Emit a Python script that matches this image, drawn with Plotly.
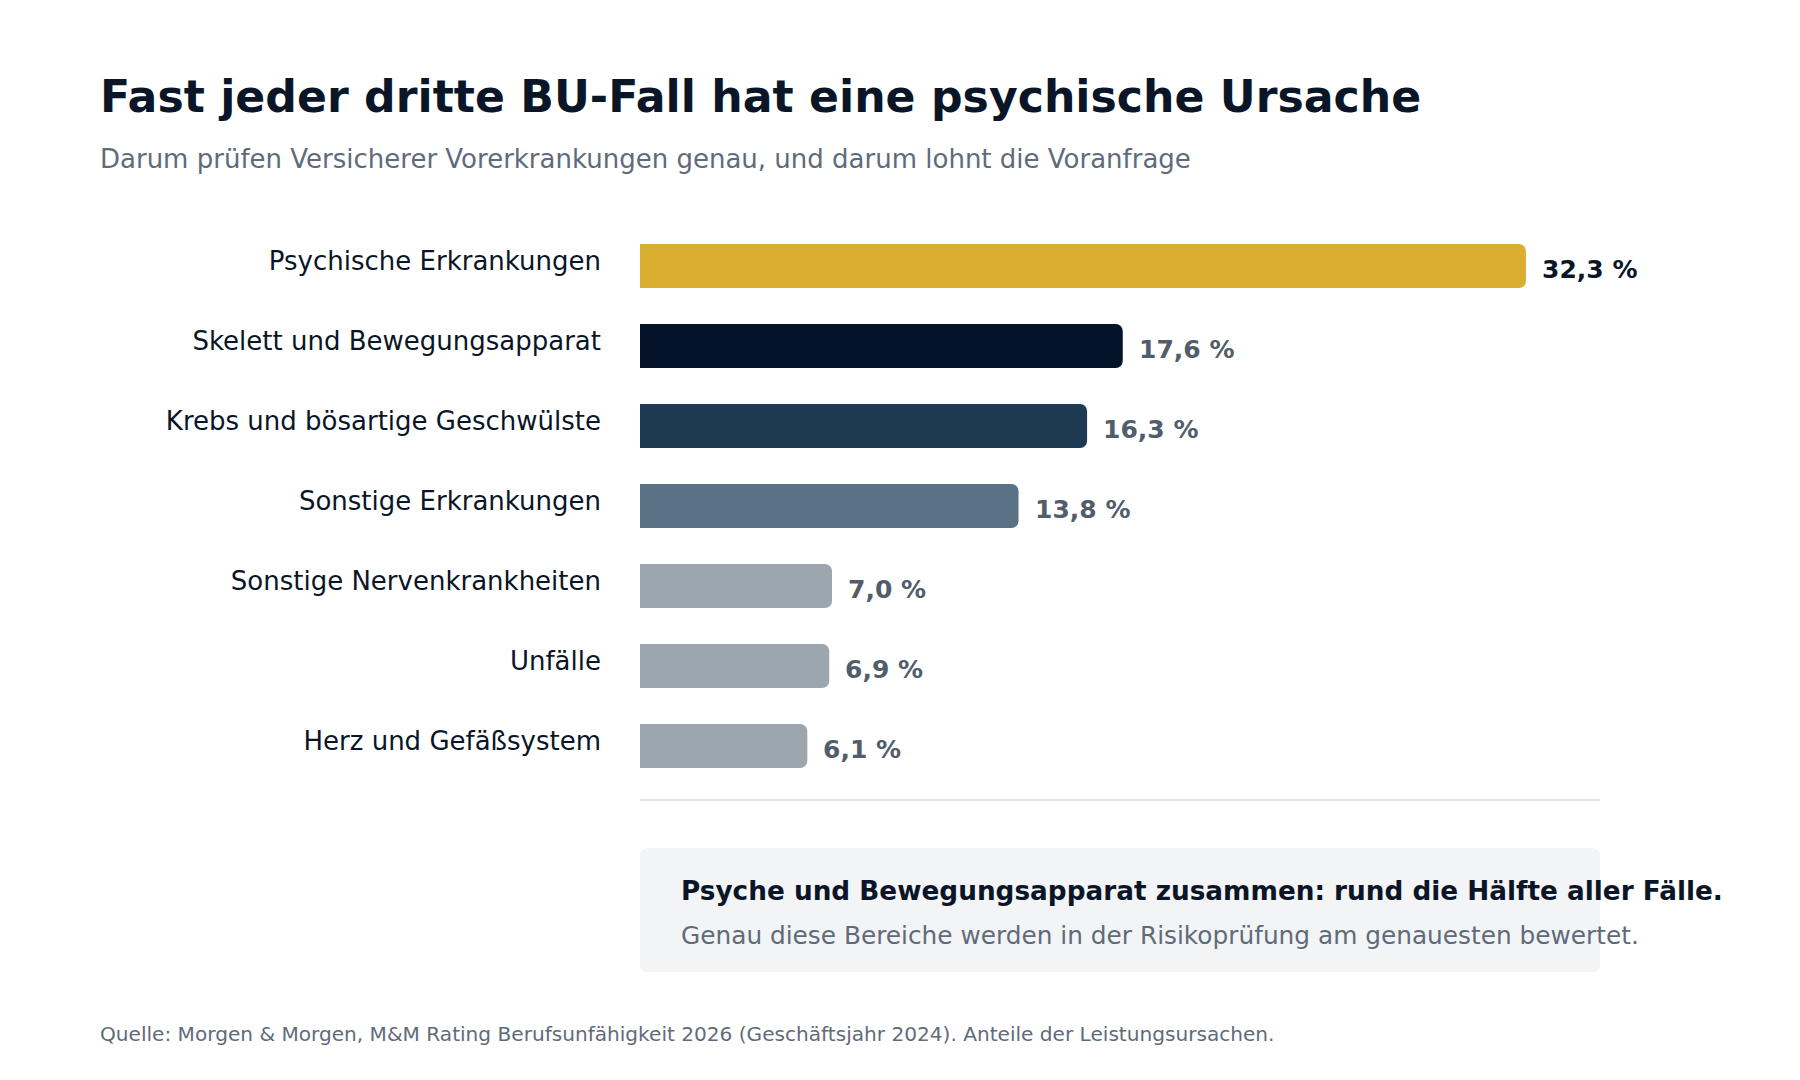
import plotly.graph_objects as go

# data
categories = [
    "Psychische Erkrankungen",
    "Skelett und Bewegungsapparat",
    "Krebs und bösartige Geschwülste",
    "Sonstige Erkrankungen",
    "Sonstige Nervenkrankheiten",
    "Unfälle",
    "Herz und Gefäßsystem",
]
shares = [32.3, 17.6, 16.3, 13.8, 7.0, 6.9, 6.1]
bar_colors = ["#D9AE31", "#051329", "#1E3A52", "#5B7186", "#9BA6AF", "#9BA6AF", "#9BA6AF"]
label_colors = ["#0A1628", "#525D6B", "#525D6B", "#525D6B", "#525D6B", "#525D6B", "#525D6B"]

title = "Fast jeder dritte BU-Fall hat eine psychische Ursache"
subtitle = "Darum prüfen Versicherer Vorerkrankungen genau, und darum lohnt die Voranfrage"
callout_head = "Psyche und Bewegungsapparat zusammen: rund die Hälfte aller Fälle."
callout_body = "Genau diese Bereiche werden in der Risikoprüfung am genauesten bewertet."
source = ("Quelle: Morgen & Morgen, M&M Rating Berufsunfähigkeit 2026 (Geschäftsjahr 2024). "
          "Anteile der Leistungsursachen.")

W, H = 1800, 1080
PAGE = 8  # browser body margin, compensated in the plot margins
X0, X1, Y0, Y1 = 640, 1600, 226, 786  # plot area as it should appear on screen
PW, PH = X1 - X0, Y1 - Y0
NAVY = "#0A1628"
GREY = "#5F6B7A"
FONT = "DejaVu Sans"


def px(x):
    # screen x -> paper x
    return (x - X0) / PW


def py(y):
    # screen y (from top) -> paper y
    return (Y1 - y) / PH


fig = go.Figure()
fig.add_trace(
    go.Bar(
        x=shares,
        y=categories,
        orientation="h",
        marker=dict(color=bar_colors, line=dict(width=0)),
        hoverinfo="skip",
        showlegend=False,
    )
)

# value labels next to the bars
for cat, val, col in zip(categories, shares, label_colors):
    fig.add_annotation(
        x=val, y=cat, xref="x", yref="y",
        text="<b>" + f"{val:.1f}".replace(".", ",") + " %</b>",
        showarrow=False, xanchor="left", yanchor="middle",
        xshift=14, yshift=-3,
        font=dict(family=FONT, size=25, color=col),
    )

# header, callout and footer texts
texts = [
    (98, 96.5, "<b>" + title + "</b>", 44.2, NAVY),
    (98, 159, subtitle, 26, GREY),
    (679, 891, "<b>" + callout_head + "</b>", 26.3, NAVY),
    (679, 935, callout_body, 24.8, GREY),
    (98, 1034, source, 20.1, GREY),
]
for x, y, t, s, c in texts:
    fig.add_annotation(
        x=px(x), y=py(y), xref="paper", yref="paper", text=t,
        showarrow=False, xanchor="left", yanchor="middle",
        font=dict(family=FONT, size=s, color=c),
    )

# divider line under the bars
fig.add_shape(type="line", xref="paper", yref="paper",
              x0=0, x1=1, y0=py(800), y1=py(800),
              line=dict(color="#E5E7EB", width=2))

# rounded callout box
bx0, bx1, by0, by1 = px(640), px(1600), py(972), py(848)
rx, ry = 8 / PW, 8 / PH
path = (f"M {bx0 + rx},{by0} L {bx1 - rx},{by0} Q {bx1},{by0} {bx1},{by0 + ry} "
        f"L {bx1},{by1 - ry} Q {bx1},{by1} {bx1 - rx},{by1} "
        f"L {bx0 + rx},{by1} Q {bx0},{by1} {bx0},{by1 - ry} "
        f"L {bx0},{by0 + ry} Q {bx0},{by0} {bx0 + rx},{by0} Z")
fig.add_shape(type="path", path=path, xref="paper", yref="paper",
              fillcolor="#F3F4F6", line=dict(width=0), layer="below")

fig.update_layout(
    width=W, height=H,
    margin=dict(l=X0 - PAGE, r=W - X1 + PAGE, t=Y0 - PAGE, b=H - Y1 + PAGE,
                autoexpand=False),
    paper_bgcolor="white", plot_bgcolor="white",
    font=dict(family=FONT, color=NAVY),
    bargap=0.45,
    barcornerradius=7,
    xaxis=dict(range=[0, 35], visible=False, fixedrange=True),
    yaxis=dict(
        autorange="reversed",
        showgrid=False, showline=False, zeroline=False, ticks="",
        tickfont=dict(family=FONT, size=26, color=NAVY),
        ticklabelstandoff=38,
        ticklabelshift=5,
        fixedrange=True,
    ),
)

fig.write_html("out.html")
